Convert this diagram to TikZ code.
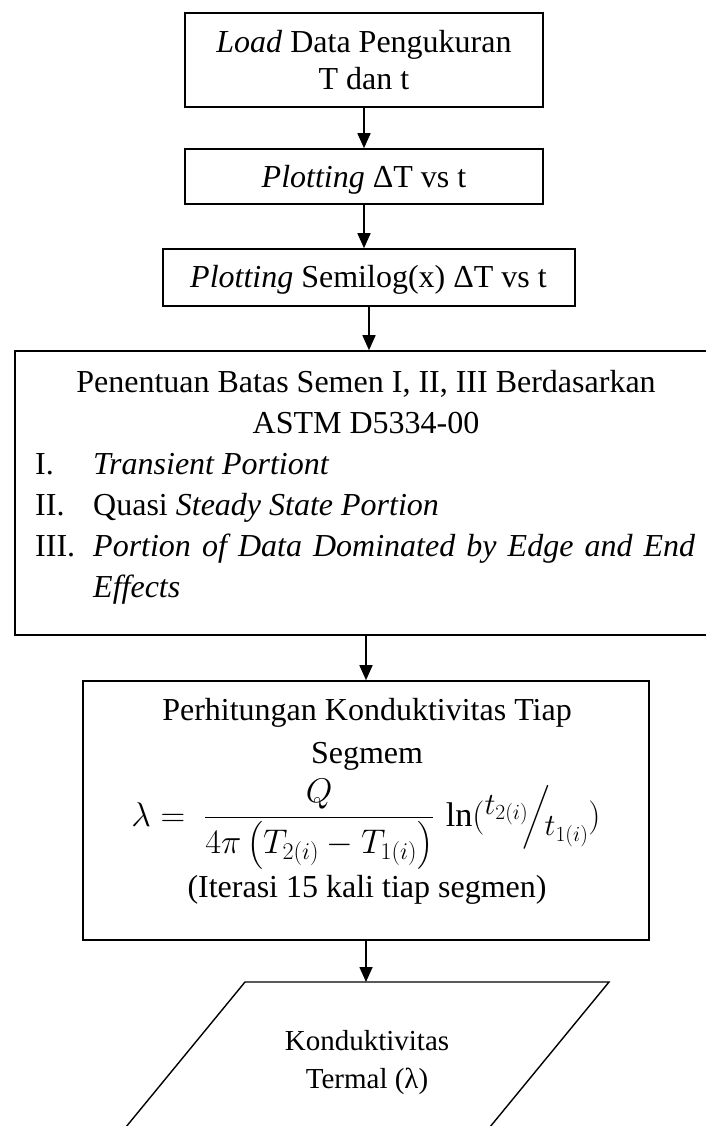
\documentclass[tikz,border=0pt]{standalone}
\usepackage{fix-cm}
\usepackage{amsmath}
\usepackage{graphicx}
\usepackage{fontspec}
\setmainfont{Liberation Serif}
\usetikzlibrary{arrows.meta}
\tikzset{
  boxn/.style={draw, line width=1.6pt, inner sep=0pt},
  txt/.style={inner sep=0pt, anchor=base, font=\fontsize{32}{37}\selectfont},
  ltxt/.style={inner sep=0pt, anchor=base west, font=\fontsize{32}{37}\selectfont},
  ptxt/.style={inner sep=0pt, anchor=base, font=\fontsize{29}{34}\selectfont},
  arr/.style={-{Triangle[width=13pt,length=15pt]}, line width=1.6pt},
  para/.style={draw, line width=1.4pt}
}
\begin{document}
\begin{tikzpicture}[x=1pt, y=-1pt]
\useasboundingbox (0,0) rectangle (706,1126);
\clip (0,0) rectangle (706,1126);
% box 1
\node[boxn, minimum width=358pt, minimum height=94pt] (b1) at (364,60) {};
\node[txt] (t1a) at (364,53) {\textit{Load} Data Pengukuran};
\node[txt] (t1b) at (364,90) {T dan t};
% box 2
\node[boxn, minimum width=358pt, minimum height=55pt] (b2) at (364,176.5) {};
\node[txt] (t2) at (364,188) {\textit{Plotting} ΔT vs t};
% box 3
\node[boxn, minimum width=412pt, minimum height=57pt] (b3) at (369,277.5) {};
\node[txt] (t3) at (368.5,287) {\textit{Plotting} Semilog(x) ΔT vs t};
% big box
\node[boxn, minimum width=702pt, minimum height=284pt] (b4) at (366,493) {};
\node[txt] (t4a) at (366,392) {Penentuan Batas Semen I, II, III Berdasarkan};
\node[txt] (t4b) at (366,433) {ASTM D5334-00};
\node[ltxt] (l1) at (35,474) {I.};
\node[ltxt] (i1) at (93,474) {\textit{Transient Portiont}};
\node[ltxt] (l2) at (35,515) {II.};
\node[ltxt] (i2) at (93,515) {Quasi \textit{Steady State Portion}};
\node[ltxt] (l3) at (35,556) {III.};
\node[ltxt] (i3) at (93,556) {\makebox[602pt][s]{\itshape Portion of Data Dominated by Edge and End}};
\node[ltxt] (i3b) at (93,597) {\textit{Effects}};
% box 5
\node[boxn, minimum width=566pt, minimum height=259pt] (b5) at (366,810.5) {};
\node[txt] (t5a) at (367,720) {Perhitungan Konduktivitas Tiap};
\node[txt] (t5b) at (367,763) {Segmem};
\node[txt] (f5) at (366,826) {\scalebox{1.07}{$\lambda =\; \dfrac{Q}{4\pi\left(T_{2(i)}-T_{1(i)}\right)}\,\ln(\raisebox{11pt}{\scalebox{0.9}{$t_{2(i)}$}}\!\Big/\!\raisebox{-9pt}{\scalebox{0.9}{$t_{1(i)}$}})$}};
\node[txt] (t5c) at (367,897) {(Iterasi 15 kali tiap segmen)};
% parallelogram
\draw[para] (66,1200) -- (245,982) -- (609,982) -- (430,1200);
\coordinate (pt) at (366,982);
\node[ptxt] (t6a) at (367,1050) {Konduktivitas};
\node[ptxt] (t6b) at (367,1088) {Termal (λ)};
% arrows
\draw[arr] (b1.south) -- (b2.north);
\draw[arr] (b2.south) -- (b2.south |- b3.north);
\draw[arr] (b3.south) -- (b3.south |- b4.north);
\draw[arr] (b4.south) -- (b4.south |- b5.north);
\draw[arr] (b5.south) -- (pt);
\end{tikzpicture}
\end{document}
